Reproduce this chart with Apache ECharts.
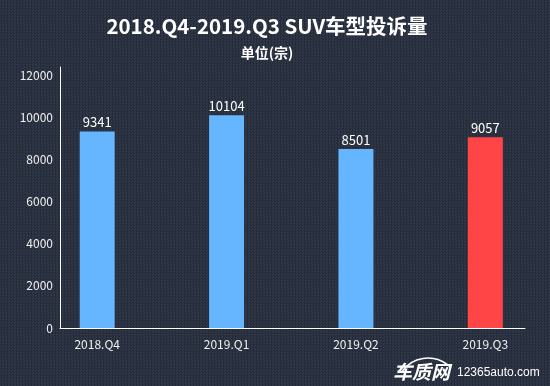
<!DOCTYPE html>
<html>
<head>
<meta charset="utf-8">
<script src="https://cdn.jsdelivr.net/npm/echarts@6/dist/echarts.min.js"></script>
<style>
html,body{margin:0;padding:0;width:550px;height:386px;overflow:hidden;
background-color:#2a3141;
background-image:repeating-conic-gradient(#252b39 0 25%, #303949 0 50%);
background-size:3px 3px;}
#c{width:550px;height:386px;}
</style>
</head>
<body>
<div id="c"></div>
<script>
const categories = ['2018.Q4', '2019.Q1', '2019.Q2', '2019.Q3'];
const values = [9341, 10104, 8501, 9057];
const barColors = ['#66b5ff', '#66b5ff', '#66b5ff', '#ff4545'];
const yTicks = [0, 2000, 4000, 6000, 8000, 10000, 12000];
const titleText = '2018.Q4-2019.Q3 SUV车型投诉量';
const subText = '单位(宗)';

const FONT = '"Noto Sans CJK SC", "Noto Sans", sans-serif';
const yMax = 12400;
const chart = echarts.init(document.getElementById('c'), null, {renderer: 'canvas'});
chart.setOption({
  backgroundColor: 'transparent',
  animation: false,
  title: {
    text: titleText,
    subtext: subText,
    left: 262, textAlign: 'center', top: 11,
    itemGap: 9,
    textStyle: {color: '#ffffff', fontSize: 20.5, fontWeight: 'bold', fontFamily: FONT},
    subtextStyle: {color: '#ffffff', fontSize: 14, fontWeight: 'bold', fontFamily: FONT}
  },
  grid: [
    {left: 32.5, width: 520, top: 67, bottom: 58},
    {left: 60, right: 25, top: 67, bottom: 58}
  ],
  xAxis: [
    {type: 'category', gridIndex: 0, data: categories,
     axisLine: {show: false}, axisTick: {show: false},
     axisLabel: {color: '#f0f0f0', fontSize: 12, margin: 10, fontFamily: FONT}},
    {type: 'category', gridIndex: 1, data: categories,
     axisLine: {show: true, lineStyle: {color: '#ffffff', width: 1}},
     axisTick: {show: false}, axisLabel: {show: false}}
  ],
  yAxis: [
    {type: 'value', gridIndex: 0, min: 0, max: yMax, interval: 2000, show: false},
    {type: 'value', gridIndex: 1, min: 0, max: yMax, interval: 2000,
     axisLine: {show: true, lineStyle: {color: '#ffffff', width: 1}},
     axisTick: {show: false}, splitLine: {show: false},
     axisLabel: {color: '#f0f0f0', fontSize: 12, margin: 7, fontFamily: FONT,
       showMaxLabel: false,
       formatter: v => yTicks.indexOf(v) >= 0 ? String(v) : ''}}
  ],
  series: [{
    type: 'bar', xAxisIndex: 0, yAxisIndex: 0,
    barWidth: 35,
    data: values.map((v, i) => ({value: v, itemStyle: {color: barColors[i]}})),
    label: {show: true, position: 'top', distance: 3, color: '#ffffff', fontSize: 13, fontFamily: FONT}
  }],
  graphic: [
    {type: 'text', left: 393, top: 362,
     style: {text: '车质网', fill: '#ffffff', font: 'italic bold 19px ' + FONT}},
    {type: 'text', left: 457, top: 367,
     style: {text: '12365auto.com', fill: '#ffffff', font: '12px "Liberation Sans", Arial, sans-serif'}},
    {type: 'arc', shape: {cx: 428, cy: 390, r: 32, startAngle: Math.PI * 1.2, endAngle: Math.PI * 1.75},
     style: {stroke: '#ffffff', lineWidth: 1.5, fill: null}}
  ]
});
</script>
</body>
</html>
